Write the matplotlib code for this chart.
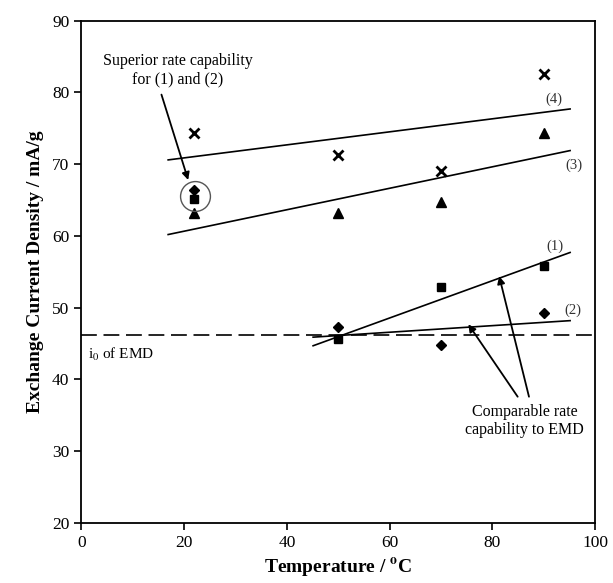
import matplotlib
matplotlib.use('Agg')
import matplotlib.pyplot as plt

plt.rcParams['font.family'] = ['Liberation Serif', 'DejaVu Serif']
plt.rcParams['mathtext.fontset'] = 'stix'

# measured points, temperature in C, i0 in mA/g
temps = [22, 50, 70, 90]
i0_1 = [65.2, 45.6, 52.9, 55.8]   # squares
i0_2 = [66.4, 47.3, 44.8, 49.2]   # diamonds
i0_3 = [63.2, 63.2, 64.8, 74.3]   # triangles
i0_4 = [74.3, 71.3, 69.1, 82.6]   # crosses

# trend lines (end points)
fit_x_34 = [16.9, 95.1]
fit_3 = [60.2, 71.9]
fit_4 = [70.6, 77.7]
fit_x_12 = [45.1, 95.1]
fit_1 = [44.7, 57.7]
fit_2 = [45.9, 48.2]

emd_i0 = 46.2

fig = plt.figure(figsize=(6.13, 5.83), dpi=100)
ax = fig.add_axes([0.1326, 0.1029, 0.8385, 0.8616])

ax.axhline(emd_i0, color='black', lw=1.2, linestyle=(0, (9.5, 4)))

ax.plot(fit_x_34, fit_4, color='black', lw=1.2)
ax.plot(fit_x_34, fit_3, color='black', lw=1.2)
ax.plot(fit_x_12, fit_1, color='black', lw=1.2)
ax.plot(fit_x_12, fit_2, color='black', lw=1.2)

ax.plot(temps, i0_4, 'x', color='black', ms=6.5, mew=2)
ax.plot(temps, i0_3, '^', color='black', ms=7)
ax.plot(temps, i0_1, 's', color='black', ms=6)
ax.plot(temps, i0_2, 'D', color='black', ms=5)

# circle round the 22 C points
ax.plot([22.1], [65.6], 'o', ms=21.5, mfc='none', mec='#555555', mew=1)

lab_kw = dict(fontsize=10.5, color='#333333', ha='center', va='center')
ax.text(92.0, 79.0, '(4)', **lab_kw)
ax.text(95.9, 69.9, '(3)', **lab_kw)
ax.text(92.2, 58.6, '(1)', **lab_kw)
ax.text(95.7, 49.6, '(2)', **lab_kw)

ax.text(1.3, 43.5, 'i$_0$ of EMD', fontsize=11, ha='left', va='center')

arrow = dict(arrowstyle='-|>', color='black', lw=1.3, mutation_scale=11,
             shrinkA=0, shrinkB=0)
ax.annotate('', xy=(20.8, 67.8), xytext=(15.6, 79.7), arrowprops=arrow)
ax.text(18.8, 83.1, 'Superior rate capability\nfor (1) and (2)', fontsize=11.5,
        ha='center', va='center', linespacing=1.15)

ax.annotate('', xy=(75.3, 47.7), xytext=(84.9, 37.6), arrowprops=arrow)
ax.annotate('', xy=(81.3, 54.4), xytext=(87.1, 37.6), arrowprops=arrow)
ax.text(86.2, 34.2, 'Comparable rate\ncapability to EMD', fontsize=11.5,
        ha='center', va='center', linespacing=1.15)

ax.set_xlim(0, 100)
ax.set_ylim(20, 90)
ax.set_xticks([0, 20, 40, 60, 80, 100])
ax.set_yticks([20, 30, 40, 50, 60, 70, 80, 90])
ax.tick_params(direction='out', length=5, width=1.2, labelsize=12.5, top=False, right=False)
for sp in ax.spines.values():
    sp.set_linewidth(1.3)

ax.set_xlabel(r'Temperature / $^{\mathbf{o}}$C', fontsize=14, fontweight='bold', labelpad=4)
ax.set_ylabel('Exchange Current Density / mA/g', fontsize=14, fontweight='bold', labelpad=6)

fig.savefig('out.png', dpi=100)
